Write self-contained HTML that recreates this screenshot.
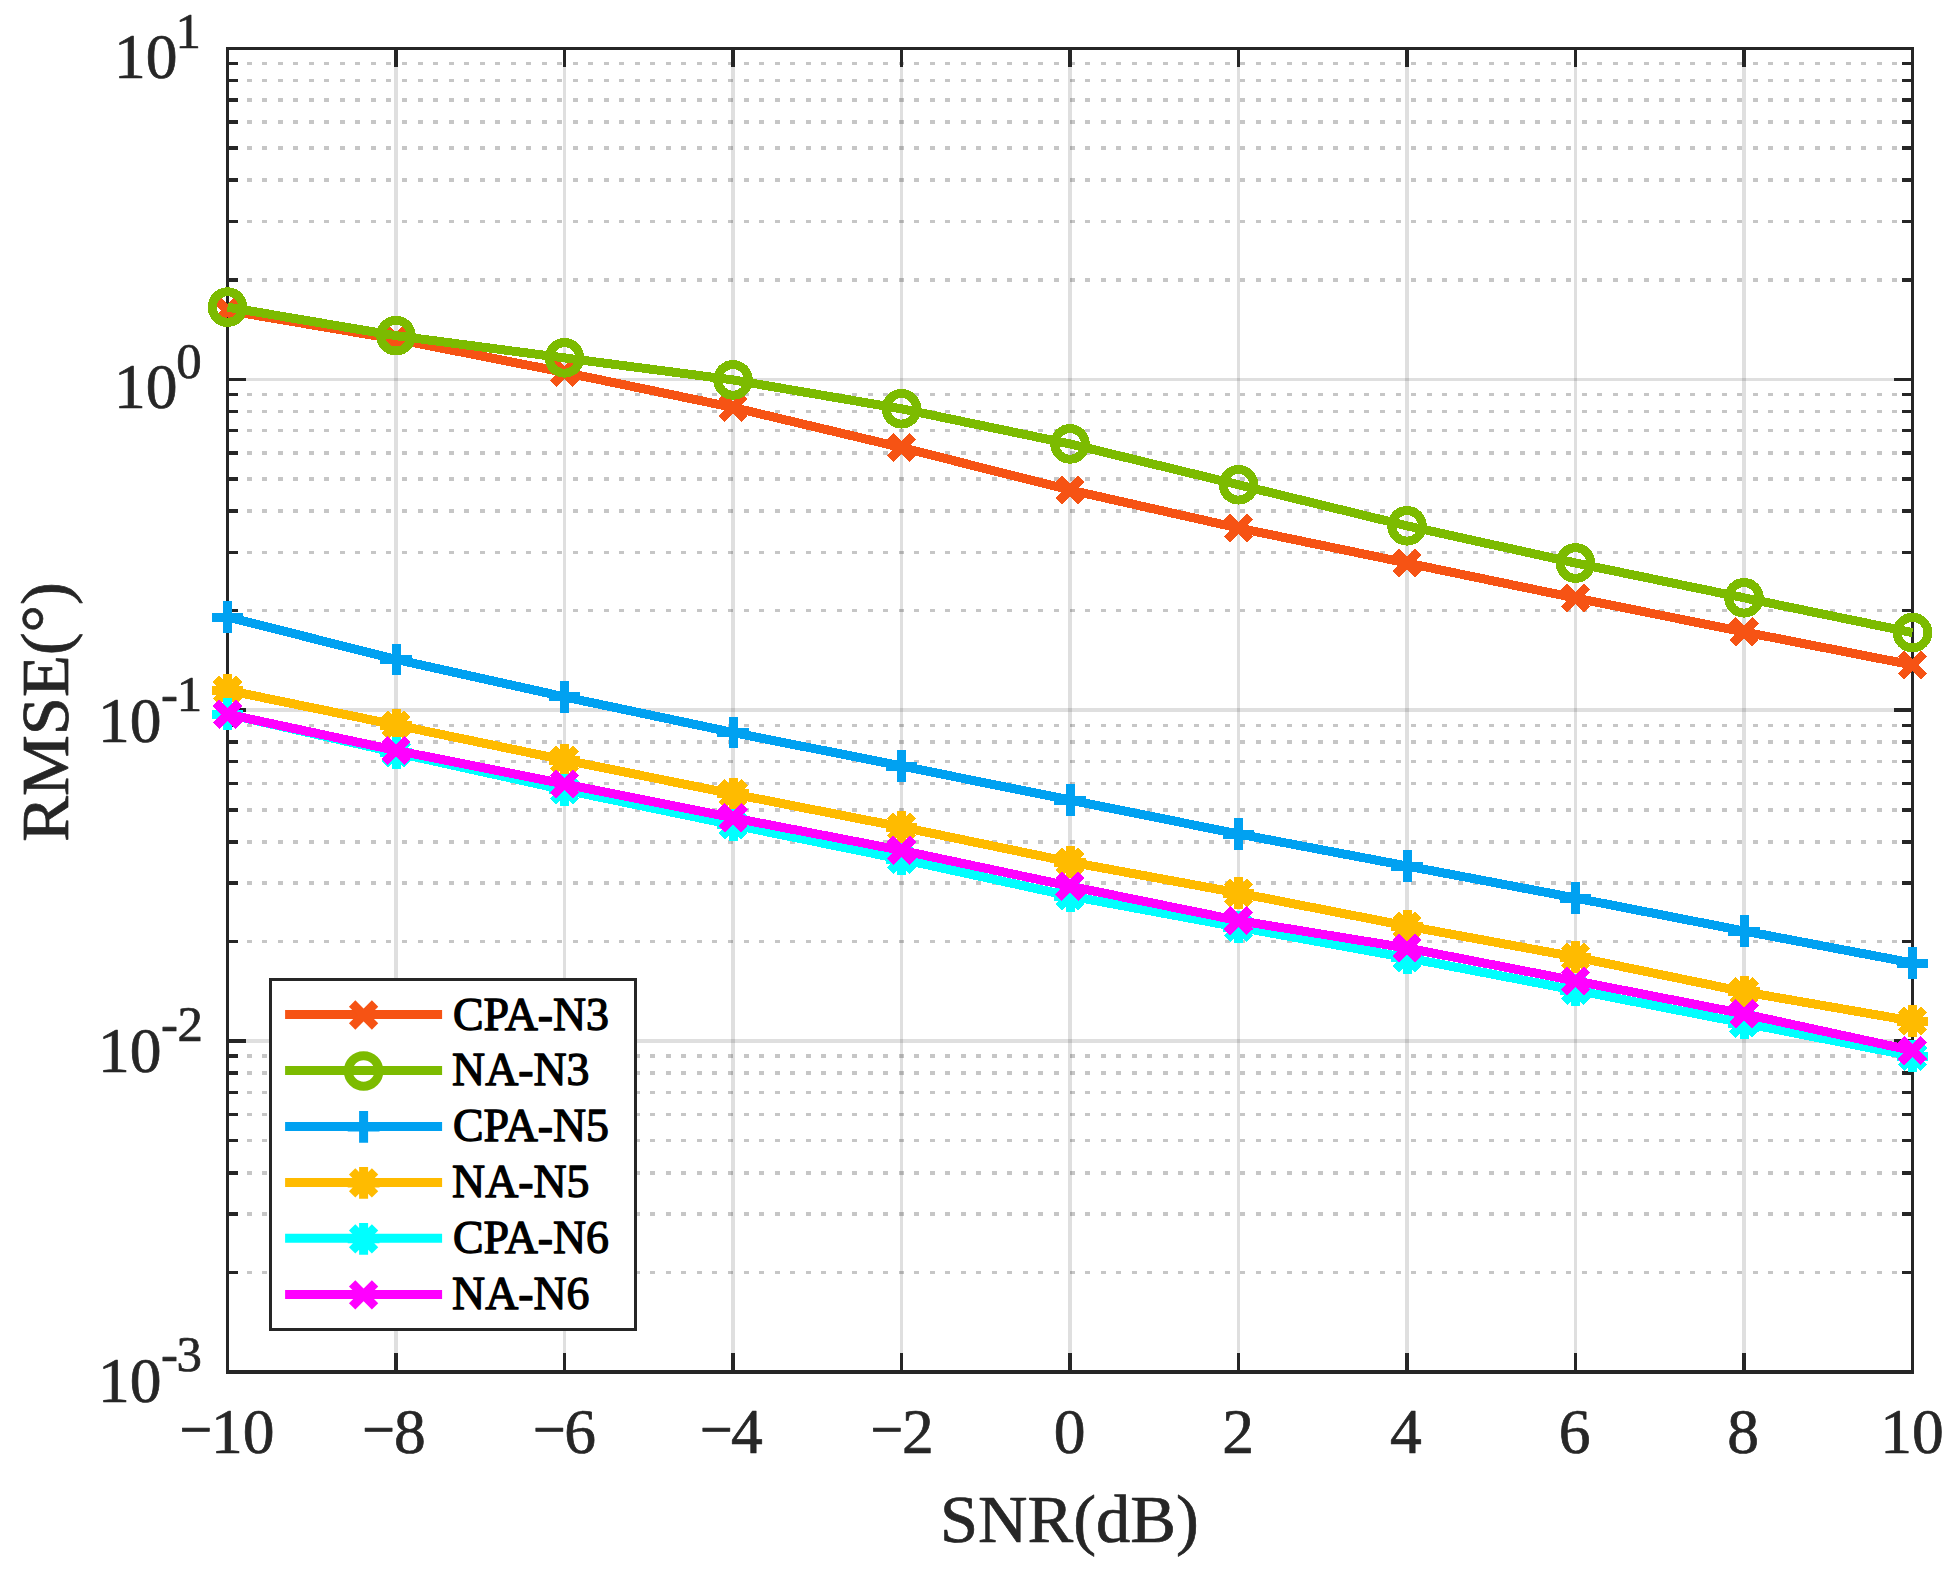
<!DOCTYPE html>
<html lang="en"><head><meta charset="utf-8"><title>RMSE versus SNR</title>
<style>html,body{margin:0;padding:0;background:#fff}body{width:1954px;height:1574px;overflow:hidden}svg{display:block}text{font-family:'Liberation Serif','Times New Roman',Times,serif;fill:#262626;stroke:#262626;stroke-width:0.7px;stroke-linejoin:round}.leg text{fill:#000;stroke:#000;stroke-width:1.3px}</style></head><body>
<svg width="1954" height="1574" viewBox="0 0 1954 1574" role="img" aria-label="RMSE versus SNR for CPA and NA arrays">
<rect x="0" y="0" width="1954" height="1574" fill="#fff"/>
<g stroke="#1a1a1a" stroke-opacity="0.25" stroke-width="3.6" stroke-dasharray="5 10.524" stroke-dashoffset="-3.726" fill="none" shape-rendering="crispEdges">
<path d="M227.5 279.75H1912.5M227.5 221.49H1912.5M227.5 180.16H1912.5M227.5 148.1H1912.5M227.5 121.9H1912.5M227.5 99.75H1912.5M227.5 80.56H1912.5M227.5 63.64H1912.5M227.5 610.6H1912.5M227.5 552.34H1912.5M227.5 511.01H1912.5M227.5 478.95H1912.5M227.5 452.75H1912.5M227.5 430.6H1912.5M227.5 411.41H1912.5M227.5 394.49H1912.5M227.5 941.45H1912.5M227.5 883.19H1912.5M227.5 841.86H1912.5M227.5 809.8H1912.5M227.5 783.6H1912.5M227.5 761.45H1912.5M227.5 742.26H1912.5M227.5 725.34H1912.5M227.5 1272.3H1912.5M227.5 1214.04H1912.5M227.5 1172.71H1912.5M227.5 1140.65H1912.5M227.5 1114.45H1912.5M227.5 1092.3H1912.5M227.5 1073.11H1912.5M227.5 1056.19H1912.5"/>
</g>
<g stroke="#262626" stroke-opacity="0.15" stroke-width="3.6" fill="none" shape-rendering="crispEdges">
<path d="M396 48.5V1371.9M564.5 48.5V1371.9M733 48.5V1371.9M901.5 48.5V1371.9M1070 48.5V1371.9M1238.5 48.5V1371.9M1407 48.5V1371.9M1575.5 48.5V1371.9M1744 48.5V1371.9"/>
<path d="M227.5 379.35H1912.5M227.5 710.2H1912.5M227.5 1041.05H1912.5"/>
</g>
<g stroke="#262626" stroke-width="3.6" fill="none" stroke-linecap="butt" shape-rendering="crispEdges">
<rect x="227.5" y="48.5" width="1685" height="1323.4"/>
<path d="M396 48.5v18.5M396 1371.9v-18.5M564.5 48.5v18.5M564.5 1371.9v-18.5M733 48.5v18.5M733 1371.9v-18.5M901.5 48.5v18.5M901.5 1371.9v-18.5M1070 48.5v18.5M1070 1371.9v-18.5M1238.5 48.5v18.5M1238.5 1371.9v-18.5M1407 48.5v18.5M1407 1371.9v-18.5M1575.5 48.5v18.5M1575.5 1371.9v-18.5M1744 48.5v18.5M1744 1371.9v-18.5M227.5 379.35h18.5M1912.5 379.35h-18.5M227.5 710.2h18.5M1912.5 710.2h-18.5M227.5 1041.05h18.5M1912.5 1041.05h-18.5M227.5 279.75h10.4M1912.5 279.75h-10.4M227.5 221.49h10.4M1912.5 221.49h-10.4M227.5 180.16h10.4M1912.5 180.16h-10.4M227.5 148.1h10.4M1912.5 148.1h-10.4M227.5 121.9h10.4M1912.5 121.9h-10.4M227.5 99.75h10.4M1912.5 99.75h-10.4M227.5 80.56h10.4M1912.5 80.56h-10.4M227.5 63.64h10.4M1912.5 63.64h-10.4M227.5 610.6h10.4M1912.5 610.6h-10.4M227.5 552.34h10.4M1912.5 552.34h-10.4M227.5 511.01h10.4M1912.5 511.01h-10.4M227.5 478.95h10.4M1912.5 478.95h-10.4M227.5 452.75h10.4M1912.5 452.75h-10.4M227.5 430.6h10.4M1912.5 430.6h-10.4M227.5 411.41h10.4M1912.5 411.41h-10.4M227.5 394.49h10.4M1912.5 394.49h-10.4M227.5 941.45h10.4M1912.5 941.45h-10.4M227.5 883.19h10.4M1912.5 883.19h-10.4M227.5 841.86h10.4M1912.5 841.86h-10.4M227.5 809.8h10.4M1912.5 809.8h-10.4M227.5 783.6h10.4M1912.5 783.6h-10.4M227.5 761.45h10.4M1912.5 761.45h-10.4M227.5 742.26h10.4M1912.5 742.26h-10.4M227.5 725.34h10.4M1912.5 725.34h-10.4M227.5 1272.3h10.4M1912.5 1272.3h-10.4M227.5 1214.04h10.4M1912.5 1214.04h-10.4M227.5 1172.71h10.4M1912.5 1172.71h-10.4M227.5 1140.65h10.4M1912.5 1140.65h-10.4M227.5 1114.45h10.4M1912.5 1114.45h-10.4M227.5 1092.3h10.4M1912.5 1092.3h-10.4M227.5 1073.11h10.4M1912.5 1073.11h-10.4M227.5 1056.19h10.4M1912.5 1056.19h-10.4"/>
</g>
<g stroke="#F65314" stroke-width="9" fill="none" stroke-linejoin="round" shape-rendering="crispEdges">
<polyline points="227.5,310.5 396,339.2 564.5,372.4 733,407.4 901.5,447.5 1070,490 1238.5,528 1407,563 1575.5,598 1744,631.9 1912.5,665"/>
<path d="M216.04 299.04L238.96 321.96M216.04 321.96L238.96 299.04"/>
<path d="M384.54 327.74L407.46 350.66M384.54 350.66L407.46 327.74"/>
<path d="M553.04 360.94L575.96 383.86M553.04 383.86L575.96 360.94"/>
<path d="M721.54 395.94L744.46 418.86M721.54 418.86L744.46 395.94"/>
<path d="M890.04 436.04L912.96 458.96M890.04 458.96L912.96 436.04"/>
<path d="M1058.54 478.54L1081.46 501.46M1058.54 501.46L1081.46 478.54"/>
<path d="M1227.04 516.54L1249.96 539.46M1227.04 539.46L1249.96 516.54"/>
<path d="M1395.54 551.54L1418.46 574.46M1395.54 574.46L1418.46 551.54"/>
<path d="M1564.04 586.54L1586.96 609.46M1564.04 609.46L1586.96 586.54"/>
<path d="M1732.54 620.44L1755.46 643.36M1732.54 643.36L1755.46 620.44"/>
<path d="M1901.04 653.54L1923.96 676.46M1901.04 676.46L1923.96 653.54"/>
</g>
<g stroke="#7CBB00" stroke-width="9" fill="none" stroke-linejoin="round" shape-rendering="crispEdges">
<polyline points="227.5,307.1 396,335.7 564.5,357.9 733,379.9 901.5,408.8 1070,443.9 1238.5,484.8 1407,525.8 1575.5,563 1744,597.8 1912.5,632.6"/>
<circle cx="227.5" cy="307.1" r="15.3"/>
<circle cx="396" cy="335.7" r="15.3"/>
<circle cx="564.5" cy="357.9" r="15.3"/>
<circle cx="733" cy="379.9" r="15.3"/>
<circle cx="901.5" cy="408.8" r="15.3"/>
<circle cx="1070" cy="443.9" r="15.3"/>
<circle cx="1238.5" cy="484.8" r="15.3"/>
<circle cx="1407" cy="525.8" r="15.3"/>
<circle cx="1575.5" cy="563" r="15.3"/>
<circle cx="1744" cy="597.8" r="15.3"/>
<circle cx="1912.5" cy="632.6" r="15.3"/>
</g>
<g stroke="#00A1F1" stroke-width="9" fill="none" stroke-linejoin="round" shape-rendering="crispEdges">
<polyline points="227.5,617 396,659.4 564.5,696.9 733,732.5 901.5,766 1070,800 1238.5,834 1407,866 1575.5,898 1744,931 1912.5,963"/>
<path d="M211.6 617H243.4M227.5 601.1V632.9"/>
<path d="M380.1 659.4H411.9M396 643.5V675.3"/>
<path d="M548.6 696.9H580.4M564.5 681V712.8"/>
<path d="M717.1 732.5H748.9M733 716.6V748.4"/>
<path d="M885.6 766H917.4M901.5 750.1V781.9"/>
<path d="M1054.1 800H1085.9M1070 784.1V815.9"/>
<path d="M1222.6 834H1254.4M1238.5 818.1V849.9"/>
<path d="M1391.1 866H1422.9M1407 850.1V881.9"/>
<path d="M1559.6 898H1591.4M1575.5 882.1V913.9"/>
<path d="M1728.1 931H1759.9M1744 915.1V946.9"/>
<path d="M1896.6 963H1928.4M1912.5 947.1V978.9"/>
</g>
<g stroke="#FFBB00" stroke-width="9" fill="none" stroke-linejoin="round" shape-rendering="crispEdges">
<polyline points="227.5,690.3 396,725 564.5,760 733,793.9 901.5,827 1070,862 1238.5,893 1407,926 1575.5,957 1744,991.8 1912.5,1021.1"/>
<path d="M211.6 690.3H243.4M227.5 674.4V706.2M216.04 678.84L238.96 701.76M216.04 701.76L238.96 678.84"/>
<path d="M380.1 725H411.9M396 709.1V740.9M384.54 713.54L407.46 736.46M384.54 736.46L407.46 713.54"/>
<path d="M548.6 760H580.4M564.5 744.1V775.9M553.04 748.54L575.96 771.46M553.04 771.46L575.96 748.54"/>
<path d="M717.1 793.9H748.9M733 778V809.8M721.54 782.44L744.46 805.36M721.54 805.36L744.46 782.44"/>
<path d="M885.6 827H917.4M901.5 811.1V842.9M890.04 815.54L912.96 838.46M890.04 838.46L912.96 815.54"/>
<path d="M1054.1 862H1085.9M1070 846.1V877.9M1058.54 850.54L1081.46 873.46M1058.54 873.46L1081.46 850.54"/>
<path d="M1222.6 893H1254.4M1238.5 877.1V908.9M1227.04 881.54L1249.96 904.46M1227.04 904.46L1249.96 881.54"/>
<path d="M1391.1 926H1422.9M1407 910.1V941.9M1395.54 914.54L1418.46 937.46M1395.54 937.46L1418.46 914.54"/>
<path d="M1559.6 957H1591.4M1575.5 941.1V972.9M1564.04 945.54L1586.96 968.46M1564.04 968.46L1586.96 945.54"/>
<path d="M1728.1 991.8H1759.9M1744 975.9V1007.7M1732.54 980.34L1755.46 1003.26M1732.54 1003.26L1755.46 980.34"/>
<path d="M1896.6 1021.1H1928.4M1912.5 1005.2V1037M1901.04 1009.64L1923.96 1032.56M1901.04 1032.56L1923.96 1009.64"/>
</g>
<g stroke="#00FFFF" stroke-width="9" fill="none" stroke-linejoin="round" shape-rendering="crispEdges">
<polyline points="227.5,714.1 396,752.7 564.5,789.9 733,824.9 901.5,859.2 1070,896 1238.5,927.2 1407,957.8 1575.5,990.2 1744,1023.1 1912.5,1056.2"/>
<path d="M211.6 714.1H243.4M227.5 698.2V730M216.04 702.64L238.96 725.56M216.04 725.56L238.96 702.64"/>
<path d="M380.1 752.7H411.9M396 736.8V768.6M384.54 741.24L407.46 764.16M384.54 764.16L407.46 741.24"/>
<path d="M548.6 789.9H580.4M564.5 774V805.8M553.04 778.44L575.96 801.36M553.04 801.36L575.96 778.44"/>
<path d="M717.1 824.9H748.9M733 809V840.8M721.54 813.44L744.46 836.36M721.54 836.36L744.46 813.44"/>
<path d="M885.6 859.2H917.4M901.5 843.3V875.1M890.04 847.74L912.96 870.66M890.04 870.66L912.96 847.74"/>
<path d="M1054.1 896H1085.9M1070 880.1V911.9M1058.54 884.54L1081.46 907.46M1058.54 907.46L1081.46 884.54"/>
<path d="M1222.6 927.2H1254.4M1238.5 911.3V943.1M1227.04 915.74L1249.96 938.66M1227.04 938.66L1249.96 915.74"/>
<path d="M1391.1 957.8H1422.9M1407 941.9V973.7M1395.54 946.34L1418.46 969.26M1395.54 969.26L1418.46 946.34"/>
<path d="M1559.6 990.2H1591.4M1575.5 974.3V1006.1M1564.04 978.74L1586.96 1001.66M1564.04 1001.66L1586.96 978.74"/>
<path d="M1728.1 1023.1H1759.9M1744 1007.2V1039M1732.54 1011.64L1755.46 1034.56M1732.54 1034.56L1755.46 1011.64"/>
<path d="M1896.6 1056.2H1928.4M1912.5 1040.3V1072.1M1901.04 1044.74L1923.96 1067.66M1901.04 1067.66L1923.96 1044.74"/>
</g>
<g stroke="#FF00FF" stroke-width="9" fill="none" stroke-linejoin="round" shape-rendering="crispEdges">
<polyline points="227.5,714.2 396,750.4 564.5,784 733,817.8 901.5,850.4 1070,886.2 1238.5,920.6 1407,948 1575.5,980.9 1744,1013.9 1912.5,1050.6"/>
<path d="M216.04 702.74L238.96 725.66M216.04 725.66L238.96 702.74"/>
<path d="M384.54 738.94L407.46 761.86M384.54 761.86L407.46 738.94"/>
<path d="M553.04 772.54L575.96 795.46M553.04 795.46L575.96 772.54"/>
<path d="M721.54 806.34L744.46 829.26M721.54 829.26L744.46 806.34"/>
<path d="M890.04 838.94L912.96 861.86M890.04 861.86L912.96 838.94"/>
<path d="M1058.54 874.74L1081.46 897.66M1058.54 897.66L1081.46 874.74"/>
<path d="M1227.04 909.14L1249.96 932.06M1227.04 932.06L1249.96 909.14"/>
<path d="M1395.54 936.54L1418.46 959.46M1395.54 959.46L1418.46 936.54"/>
<path d="M1564.04 969.44L1586.96 992.36M1564.04 992.36L1586.96 969.44"/>
<path d="M1732.54 1002.44L1755.46 1025.36M1732.54 1025.36L1755.46 1002.44"/>
<path d="M1901.04 1039.14L1923.96 1062.06M1901.04 1062.06L1923.96 1039.14"/>
</g>
<g font-size="63.5">
<text><tspan x="179.59" y="1450.9" textLength="32.77" lengthAdjust="spacingAndGlyphs">−</tspan><tspan x="211.02" y="1452.6">10</tspan></text>
<text><tspan x="362.14" y="1450.9" textLength="32.77" lengthAdjust="spacingAndGlyphs">−</tspan><tspan x="394.07" y="1452.6">8</tspan></text>
<text><tspan x="533.09" y="1450.9" textLength="32.77" lengthAdjust="spacingAndGlyphs">−</tspan><tspan x="564.26" y="1452.6">6</tspan></text>
<text><tspan x="699.99" y="1450.9" textLength="32.77" lengthAdjust="spacingAndGlyphs">−</tspan><tspan x="730.95" y="1452.6">4</tspan></text>
<text><tspan x="870.54" y="1450.9" textLength="32.77" lengthAdjust="spacingAndGlyphs">−</tspan><tspan x="901.88" y="1452.6">2</tspan></text>
<text x="1053.67" y="1452.6">0</text>
<text x="1222.23" y="1452.6">2</text>
<text x="1390" y="1452.6">4</text>
<text x="1558.86" y="1452.6">6</text>
<text x="1727.18" y="1452.6">8</text>
<text x="1880.22" y="1452.6">10</text>
</g>
<g font-size="63.5">
<text><tspan x="114.02" y="78">10</tspan><tspan x="175.59" y="47.9" font-size="50.8">1</tspan></text>
<text><tspan x="114.02" y="408">10</tspan><tspan x="176.3" y="377.6" font-size="50.8">0</tspan></text>
<text><tspan x="98.12" y="742">10</tspan><tspan x="161.02" y="711" font-size="50.8">-</tspan><tspan x="176.69" y="711" font-size="50.8">1</tspan></text>
<text><tspan x="98.12" y="1072">10</tspan><tspan x="161.02" y="1041" font-size="50.8">-</tspan><tspan x="177.59" y="1041" font-size="50.8">2</tspan></text>
<text><tspan x="98.12" y="1402">10</tspan><tspan x="161.02" y="1371" font-size="50.8">-</tspan><tspan x="176.48" y="1371" font-size="50.8">3</tspan></text>
</g>
<text x="1069.3" y="1542" font-size="68.5" text-anchor="middle">SNR(dB)</text>
<text transform="translate(67.6 712) rotate(-90)" font-size="68.5" text-anchor="middle">RMSE(°)</text>
<g class="leg">
<rect x="270.5" y="979.5" width="365" height="350" fill="#fff" stroke="#262626" stroke-width="3.6" shape-rendering="crispEdges"/>
<g stroke="#F65314" stroke-width="9" fill="none">
<path d="M285.1 1014.5H442.1"/>
<path d="M352.14 1003.54L375.06 1026.46M352.14 1026.46L375.06 1003.54"/>
</g>
<text x="452.9" y="1029.5" font-size="45.8">CPA-N3</text>
<g stroke="#7CBB00" stroke-width="9" fill="none">
<path d="M285.1 1070.45H442.1"/>
<circle cx="363.6" cy="1070.95" r="15.3"/>
</g>
<text x="452.1" y="1085.45" font-size="45.8">NA-N3</text>
<g stroke="#00A1F1" stroke-width="9" fill="none">
<path d="M285.1 1126.4H442.1"/>
<path d="M347.7 1126.9H379.5M363.6 1111V1142.8"/>
</g>
<text x="452.9" y="1141.4" font-size="45.8">CPA-N5</text>
<g stroke="#FFBB00" stroke-width="9" fill="none">
<path d="M285.1 1182.4H442.1"/>
<path d="M347.7 1182.9H379.5M363.6 1167V1198.8M352.14 1171.44L375.06 1194.36M352.14 1194.36L375.06 1171.44"/>
</g>
<text x="452.1" y="1197.4" font-size="45.8">NA-N5</text>
<g stroke="#00FFFF" stroke-width="9" fill="none">
<path d="M285.1 1238.35H442.1"/>
<path d="M347.7 1238.85H379.5M363.6 1222.95V1254.75M352.14 1227.39L375.06 1250.31M352.14 1250.31L375.06 1227.39"/>
</g>
<text x="452.9" y="1253.35" font-size="45.8">CPA-N6</text>
<g stroke="#FF00FF" stroke-width="9" fill="none">
<path d="M285.1 1294.4H442.1"/>
<path d="M352.14 1283.44L375.06 1306.36M352.14 1306.36L375.06 1283.44"/>
</g>
<text x="452.1" y="1309.4" font-size="45.8">NA-N6</text>
</g>
</svg></body></html>
